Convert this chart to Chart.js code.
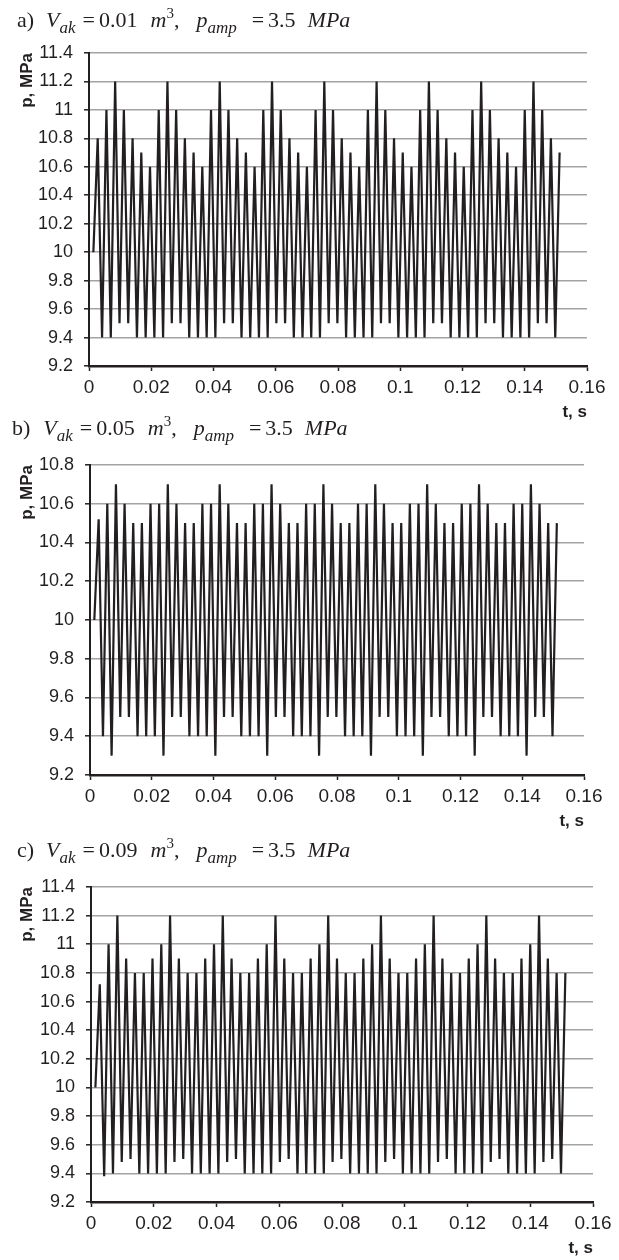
<!DOCTYPE html>
<html>
<head>
<meta charset="utf-8">
<script src="https://cdn.jsdelivr.net/npm/chart.js@4/dist/chart.umd.min.js"></script>
<style>
  html, body { margin: 0; padding: 0; background: #fff; }
  body { width: 619px; height: 1260px; position: relative; overflow: hidden; }
  .box { position: absolute; left: 0; width: 619px; }
  .ttl {
    position: absolute; z-index: 2; white-space: nowrap; color: #231f20;
    font-family: "Liberation Serif", "DejaVu Serif", serif; font-size: 22px; line-height: 22px;
  }
  .ttl span { display: inline-block; }
  .ttl i { font-style: italic; }
  .ttl sub { font-style: italic; font-size: 17px; vertical-align: -6px; line-height: 0; }
  .ttl sup { font-size: 15px; vertical-align: 9px; line-height: 0; }
</style>
</head>
<body>

<div class="ttl" style="left:17px;top:9px"><span>a)</span><span style="margin-left:12px"><i>V</i><sub>ak</sub></span><span style="margin-left:7px">=</span><span style="margin-left:4px">0.01</span><span style="margin-left:13px"><i>m</i><sup>3</sup>,</span><span style="margin-left:17px"><i>p</i><sub>amp</sub></span><span style="margin-left:15px">=</span><span style="margin-left:4px">3.5</span><span style="margin-left:12px"><i>MPa</i></span></div>
<div class="ttl" style="left:12px;top:417px"><span>b)</span><span style="margin-left:13px"><i>V</i><sub>ak</sub></span><span style="margin-left:7px">=</span><span style="margin-left:4px">0.05</span><span style="margin-left:13px"><i>m</i><sup>3</sup>,</span><span style="margin-left:17px"><i>p</i><sub>amp</sub></span><span style="margin-left:15px">=</span><span style="margin-left:4px">3.5</span><span style="margin-left:12px"><i>MPa</i></span></div>
<div class="ttl" style="left:17px;top:839px"><span>c)</span><span style="margin-left:12px"><i>V</i><sub>ak</sub></span><span style="margin-left:7px">=</span><span style="margin-left:4px">0.09</span><span style="margin-left:13px"><i>m</i><sup>3</sup>,</span><span style="margin-left:17px"><i>p</i><sub>amp</sub></span><span style="margin-left:15px">=</span><span style="margin-left:4px">3.5</span><span style="margin-left:12px"><i>MPa</i></span></div>

<div class="box" style="top:0;height:430px"><canvas id="chart-a" width="619" height="430"></canvas></div>
<div class="box" style="top:430px;height:410px"><canvas id="chart-b" width="619" height="410"></canvas></div>
<div class="box" style="top:840px;height:420px"><canvas id="chart-c" width="619" height="420"></canvas></div>

<script>
// time samples, s (same grid for all three runs)
const timeS = [
  0.0014, 0.0028, 0.0042, 0.0056, 0.0070, 0.0084, 0.0098, 0.0112, 0.0126, 0.0140, 0.0154, 0.0168,
  0.0182, 0.0196, 0.0210, 0.0224, 0.0238, 0.0252, 0.0266, 0.0280, 0.0294, 0.0308, 0.0322, 0.0336,
  0.0350, 0.0364, 0.0378, 0.0392, 0.0406, 0.0420, 0.0434, 0.0448, 0.0462, 0.0476, 0.0490, 0.0504,
  0.0518, 0.0532, 0.0546, 0.0560, 0.0574, 0.0588, 0.0602, 0.0616, 0.0630, 0.0644, 0.0658, 0.0672,
  0.0686, 0.0700, 0.0714, 0.0728, 0.0742, 0.0756, 0.0770, 0.0784, 0.0798, 0.0812, 0.0826, 0.0840,
  0.0854, 0.0868, 0.0882, 0.0896, 0.0910, 0.0924, 0.0938, 0.0952, 0.0966, 0.0980, 0.0994, 0.1008,
  0.1022, 0.1036, 0.1050, 0.1064, 0.1078, 0.1092, 0.1106, 0.1120, 0.1134, 0.1148, 0.1162, 0.1176,
  0.1190, 0.1204, 0.1218, 0.1232, 0.1246, 0.1260, 0.1274, 0.1288, 0.1302, 0.1316, 0.1330, 0.1344,
  0.1358, 0.1372, 0.1386, 0.1400, 0.1414, 0.1428, 0.1442, 0.1456, 0.1470, 0.1484, 0.1498, 0.1512
];

// a) V_ak = 0.01 m3, MPa
const pressureA = [
  10, 10.8, 9.4, 11, 9.4, 11.2, 9.5, 11, 9.5, 10.8, 9.4, 10.7,
  9.4, 10.6, 9.4, 11, 9.4, 11.2, 9.5, 11, 9.5, 10.8, 9.4, 10.7,
  9.4, 10.6, 9.4, 11, 9.4, 11.2, 9.5, 11, 9.5, 10.8, 9.4, 10.7,
  9.4, 10.6, 9.4, 11, 9.4, 11.2, 9.5, 11, 9.5, 10.8, 9.4, 10.7,
  9.4, 10.6, 9.4, 11, 9.4, 11.2, 9.5, 11, 9.5, 10.8, 9.4, 10.7,
  9.4, 10.6, 9.4, 11, 9.4, 11.2, 9.5, 11, 9.5, 10.8, 9.4, 10.7,
  9.4, 10.6, 9.4, 11, 9.4, 11.2, 9.5, 11, 9.5, 10.8, 9.4, 10.7,
  9.4, 10.6, 9.4, 11, 9.4, 11.2, 9.5, 11, 9.5, 10.8, 9.4, 10.7,
  9.4, 10.6, 9.4, 11, 9.4, 11.2, 9.5, 11, 9.5, 10.8, 9.4, 10.7
];

// b) V_ak = 0.05 m3
const pressureB = [
  10, 10.52, 9.4, 10.6, 9.3, 10.7, 9.5, 10.6, 9.5, 10.5, 9.4, 10.5,
  9.4, 10.6, 9.4, 10.6, 9.3, 10.7, 9.5, 10.6, 9.5, 10.5, 9.4, 10.5,
  9.4, 10.6, 9.4, 10.6, 9.3, 10.7, 9.5, 10.6, 9.5, 10.5, 9.4, 10.5,
  9.4, 10.6, 9.4, 10.6, 9.3, 10.7, 9.5, 10.6, 9.5, 10.5, 9.4, 10.5,
  9.4, 10.6, 9.4, 10.6, 9.3, 10.7, 9.5, 10.6, 9.5, 10.5, 9.4, 10.5,
  9.4, 10.6, 9.4, 10.6, 9.3, 10.7, 9.5, 10.6, 9.5, 10.5, 9.4, 10.5,
  9.4, 10.6, 9.4, 10.6, 9.3, 10.7, 9.5, 10.6, 9.5, 10.5, 9.4, 10.5,
  9.4, 10.6, 9.4, 10.6, 9.3, 10.7, 9.5, 10.6, 9.5, 10.5, 9.4, 10.5,
  9.4, 10.6, 9.4, 10.6, 9.3, 10.7, 9.5, 10.6, 9.5, 10.5, 9.4, 10.5
];

// c) V_ak = 0.09 m3
const pressureC = [
  10, 10.72, 9.38, 11, 9.4, 11.2, 9.48, 10.9, 9.5, 10.8, 9.4, 10.8,
  9.4, 10.9, 9.4, 11, 9.4, 11.2, 9.48, 10.9, 9.5, 10.8, 9.4, 10.8,
  9.4, 10.9, 9.4, 11, 9.4, 11.2, 9.48, 10.9, 9.5, 10.8, 9.4, 10.8,
  9.4, 10.9, 9.4, 11, 9.4, 11.2, 9.48, 10.9, 9.5, 10.8, 9.4, 10.8,
  9.4, 10.9, 9.4, 11, 9.4, 11.2, 9.48, 10.9, 9.5, 10.8, 9.4, 10.8,
  9.4, 10.9, 9.4, 11, 9.4, 11.2, 9.48, 10.9, 9.5, 10.8, 9.4, 10.8,
  9.4, 10.9, 9.4, 11, 9.4, 11.2, 9.48, 10.9, 9.5, 10.8, 9.4, 10.8,
  9.4, 10.9, 9.4, 11, 9.4, 11.2, 9.48, 10.9, 9.5, 10.8, 9.4, 10.8,
  9.4, 10.9, 9.4, 11, 9.4, 11.2, 9.48, 10.9, 9.5, 10.8, 9.4, 10.8
];

// tick labels
const xTicks = [0, 0.02, 0.04, 0.06, 0.08, 0.1, 0.12, 0.14, 0.16];
const yTicksA = [9.2, 9.4, 9.6, 9.8, 10, 10.2, 10.4, 10.6, 10.8, 11, 11.2, 11.4];
const yTicksB = [9.2, 9.4, 9.6, 9.8, 10, 10.2, 10.4, 10.6, 10.8];
const yTicksC = [9.2, 9.4, 9.6, 9.8, 10, 10.2, 10.4, 10.6, 10.8, 11, 11.2, 11.4];

const INK = '#231f20';
const GRID = '#a3a3a3';
const SANS = '"Liberation Sans Narrow", "Liberation Sans", Arial, sans-serif';

function makeChart(id, values, yTicks, box) {
  const points = timeS.map((t, i) => ({ x: t, y: values[i] }));

  return new Chart(document.getElementById(id), {
    type: 'line',
    data: {
      datasets: [{
        data: points,
        borderColor: INK,
        borderWidth: 2.2,
        pointRadius: 0,
        tension: 0,
        fill: false
      }]
    },
    options: {
      responsive: false,
      animation: false,
      events: [],
      layout: {
        padding: { top: box.top, right: box.right, bottom: box.bottom, left: 0 }
      },
      plugins: {
        legend: { display: false },
        tooltip: { enabled: false }
      },
      scales: {
        x: {
          type: 'linear',
          min: xTicks[0],
          max: xTicks[xTicks.length - 1],
          afterBuildTicks: s => { s.ticks = xTicks.map(v => ({ value: v })); },
          afterFit: s => { s.height = 58; },
          border: { color: INK, width: 2.5 },
          grid: { drawOnChartArea: false, drawTicks: true, tickLength: 5, tickColor: INK, tickWidth: 1.5 },
          ticks: {
            color: INK,
            padding: 5,
            maxRotation: 0,
            autoSkip: false,
            font: { family: SANS, size: 19 },
            callback: v => String(Math.round(v * 100) / 100)
          },
          title: {
            display: true,
            text: 't, s',
            align: 'end',
            color: INK,
            padding: { top: 0, bottom: 1 },
            font: { family: SANS, size: 17, weight: 'bold' }
          }
        },
        y: {
          type: 'linear',
          min: yTicks[0],
          max: yTicks[yTicks.length - 1],
          afterBuildTicks: s => { s.ticks = yTicks.map(v => ({ value: v })); },
          afterFit: s => { s.width = box.left; },
          border: { color: INK, width: 2 },
          grid: { color: GRID, lineWidth: 1.6, drawTicks: true, tickLength: 5, tickColor: INK, tickWidth: 1.5 },
          ticks: {
            color: INK,
            padding: 11,
            autoSkip: false,
            font: { family: SANS, size: 18 },
            callback: v => String(Math.round(v * 10) / 10)
          },
          title: {
            display: true,
            text: 'p, MPa',
            align: 'end',
            color: INK,
            padding: { top: 17, bottom: 0 },
            font: { family: SANS, size: 17, weight: 'bold' }
          }
        }
      }
    }
  });
}

makeChart('chart-a', pressureA, yTicksA, { top: 53, right: 32, bottom: 6, left: 89 });
makeChart('chart-b', pressureB, yTicksB, { top: 35, right: 35, bottom: 7, left: 90 });
makeChart('chart-c', pressureC, yTicksC, { top: 47, right: 26, bottom: 0, left: 91 });
</script>
</body>
</html>
